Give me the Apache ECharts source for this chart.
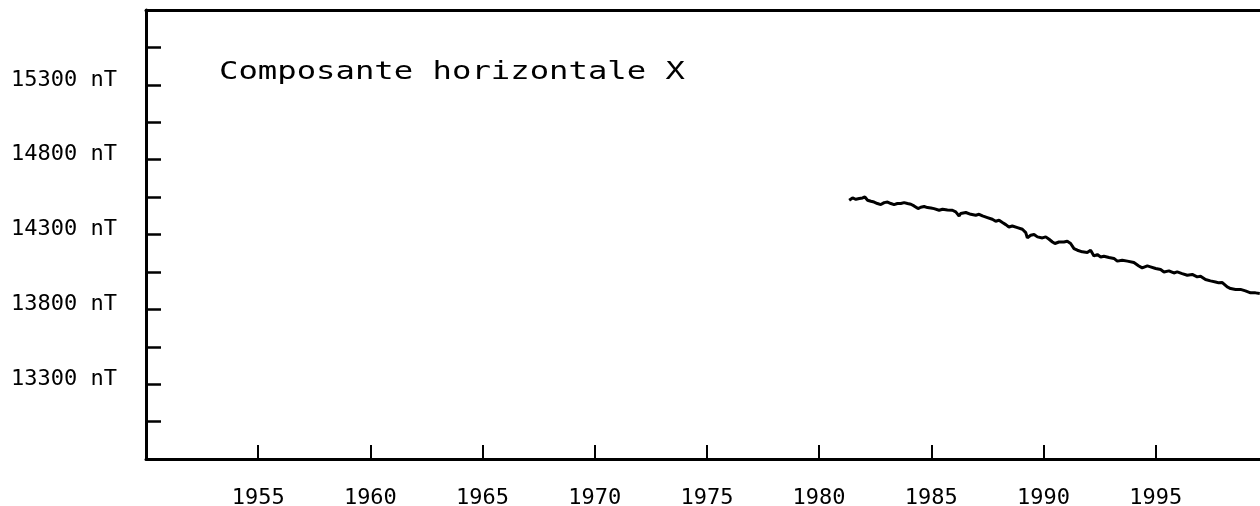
<!DOCTYPE html>
<html>
<head>
<meta charset="utf-8">
<script src="https://cdn.jsdelivr.net/npm/echarts@6/dist/echarts.min.js"></script>
<style>
  html, body { margin: 0; padding: 0; background: #fff; overflow: hidden; }
  #chart { width: 1260px; height: 506px; }
</style>
</head>
<body>
<div id="chart"></div>
<script>
// composante X (annee, nT)
const years = [
  1981.34, 1981.49, 1981.64, 1981.79, 1981.94, 1982.04, 1982.16, 1982.31, 1982.45, 1982.60,
  1982.75, 1982.90, 1983.05, 1983.20, 1983.34, 1983.49, 1983.64, 1983.79, 1983.94, 1984.09,
  1984.23, 1984.41, 1984.53, 1984.68, 1984.83, 1984.98, 1985.12, 1985.35, 1985.50, 1985.72,
  1985.94, 1986.09, 1986.24, 1986.31, 1986.54, 1986.76, 1986.98, 1987.13, 1987.28, 1987.50,
  1987.72, 1987.87, 1988.02, 1988.17, 1988.32, 1988.46, 1988.61, 1988.84, 1989.06, 1989.21,
  1989.28, 1989.43, 1989.58, 1989.73, 1989.95, 1990.10, 1990.25, 1990.40, 1990.51, 1990.69,
  1990.91, 1991.06, 1991.21, 1991.36, 1991.51, 1991.73, 1991.95, 1992.10, 1992.25, 1992.40,
  1992.55, 1992.69, 1992.92, 1993.14, 1993.29, 1993.51, 1993.74, 1994.03, 1994.25, 1994.40,
  1994.63, 1994.77, 1995.00, 1995.07, 1995.22, 1995.37, 1995.59, 1995.81, 1995.96, 1996.18,
  1996.41, 1996.63, 1996.85, 1997.00, 1997.22, 1997.44, 1997.67, 1997.81, 1997.97, 1998.19,
  1998.34, 1998.56, 1998.78, 1999.00, 1999.23, 1999.45, 1999.64
];
const xValues = [
  14529, 14544, 14535, 14540, 14544, 14551, 14529, 14522, 14517, 14507,
  14500, 14513, 14517, 14507, 14500, 14507, 14507, 14513, 14507, 14502,
  14491, 14473, 14482, 14487, 14480, 14477, 14473, 14462, 14469, 14464,
  14462, 14451, 14424, 14440, 14447, 14435, 14429, 14435, 14424, 14413,
  14402, 14389, 14395, 14380, 14366, 14350, 14357, 14346, 14335, 14313,
  14277, 14295, 14300, 14284, 14277, 14284, 14268, 14250, 14240, 14250,
  14250, 14255, 14240, 14206, 14195, 14184, 14180, 14195, 14157, 14166,
  14150, 14155, 14146, 14140, 14122, 14128, 14122, 14113, 14090, 14077,
  14090, 14084, 14073, 14077, 14066, 14050, 14057, 14043, 14050, 14039,
  14028, 14033, 14017, 14021, 13999, 13990, 13983, 13977, 13979, 13950,
  13939, 13933, 13933, 13923, 13910, 13910, 13906
];
const yearTicks = [1955, 1960, 1965, 1970, 1975, 1980, 1985, 1990, 1995];
const nTTicks = [13300, 13800, 14300, 14800, 15300];
const titleText = 'Composante horizontale X';

const font = 'DejaVu Sans Mono';
let chart = echarts.init(document.getElementById('chart'));

// le cadre est coupe a droite: l'axe s'arrete juste avant 2000
let frameLine = { show: true, lineStyle: { color: '#000', width: 3 } };

let option = {
    backgroundColor: '#fff',
    animation: false,
    grid: {
        left: 146,
        right: 0,
        top: 10,
        bottom: 47,
        outerBoundsMode: 'none',
        containLabel: false
    },
    graphic: [{
        type: 'text',
        x: 219,
        y: 72,
        scaleX: 1.29,
        style: {
            text: titleText,
            font: '25px "' + font + '"',
            fill: '#000',
            align: 'left',
            verticalAlign: 'middle'
        }
    }],
    xAxis: [{
        type: 'value',
        position: 'bottom',
        min: 1950,
        max: 1999.65,
        interval: 5,
        splitLine: { show: false },
        axisLine: frameLine,
        axisTick: {
            inside: true,
            length: 14,
            lineStyle: { color: '#000', width: 2 }
        },
        axisLabel: {
            margin: 28,
            color: '#000',
            fontFamily: font,
            fontSize: 22,
            showMaxLabel: false,
            formatter: function (v) {
                return yearTicks.indexOf(v) >= 0 ? String(v) : '';
            }
        }
    }, {
        type: 'value',
        position: 'top',
        min: 1950,
        max: 1999.65,
        splitLine: { show: false },
        axisLine: frameLine,
        axisTick: { show: false },
        axisLabel: { show: false }
    }],
    yAxis: {
        type: 'value',
        min: 12800,
        max: 15800,
        interval: 250,
        splitLine: { show: false },
        axisLine: frameLine,
        axisTick: {
            inside: true,
            length: 15,
            lineStyle: { color: '#000', width: 2.5 }
        },
        axisLabel: {
            margin: 29,
            color: '#000',
            fontFamily: font,
            fontSize: 22,
            verticalAlign: 'bottom',
            lineHeight: 10,
            formatter: function (v) {
                return nTTicks.indexOf(v) >= 0 ? v + ' nT' : '';
            }
        }
    },
    series: [{
        type: 'line',
        xAxisIndex: 0,
        data: years.map((y, i) => [y, xValues[i]]),
        showSymbol: false,
        symbol: 'none',
        lineStyle: { color: '#000', width: 3 }
    }]
};
chart.setOption(option);
</script>
</body>
</html>
